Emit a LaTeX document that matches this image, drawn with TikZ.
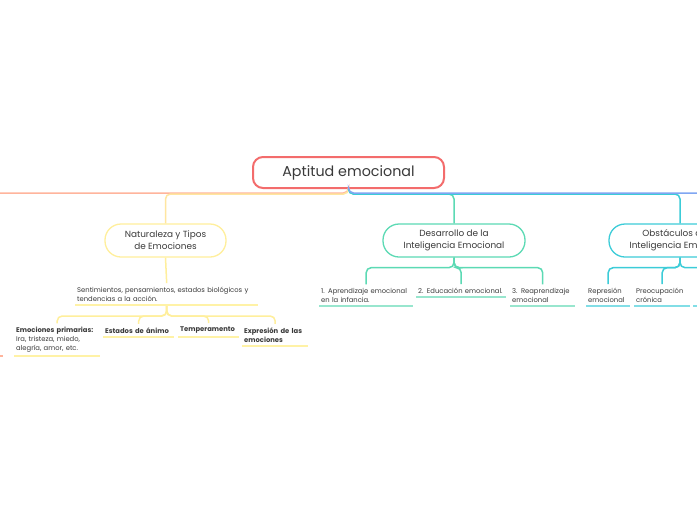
\documentclass[tikz,border=0pt]{standalone}
\usepackage{fontspec}
\setmainfont{Poppins}
\definecolor{rootred}{HTML}{F36C6C}
\definecolor{salmonline}{HTML}{FFB49C}
\definecolor{natline}{HTML}{FFE6A0}
\definecolor{natbox}{HTML}{FFEF9C}
\definecolor{natleaf}{HTML}{FFF2A6}
\definecolor{blueline}{HTML}{80A6F2}
\definecolor{desline}{HTML}{5CDAB4}
\definecolor{desleaf}{HTML}{98E6CE}
\definecolor{obsline}{HTML}{3CCCD8}
\definecolor{obsleaf}{HTML}{82DEE6}
\definecolor{textgray}{HTML}{3A3A3A}
\begin{document}
\begin{tikzpicture}[x=1pt,y=-1pt,
    conn/.style={line width=1.5pt, rounded corners=5pt},
    uline/.style={line width=1.6pt},
    topic/.style={draw, fill=white, line width=1.3pt, rounded corners=16pt,
      minimum width=142pt, minimum height=33pt, align=center,
      font=\fontsize{8.9}{12}\selectfont, text=textgray},
    leaf/.style={anchor=south west, align=left, inner xsep=2pt, inner ysep=3.5pt,
      font=\fontsize{6.8}{9}\selectfont, text=textgray}]
  \clip (0,0) rectangle (697,520);
  \fill[white] (0,0) rectangle (697,520);

  % main topic
  \node[draw=rootred, fill=white, line width=2pt, rounded corners=10pt,
    minimum width=191pt, minimum height=31pt, text=textgray,
    font=\fontsize{14.3}{16}\selectfont] (root) at (348.5,172.5) {Aptitud emocional};

  % branch topics
  \node[topic, draw=natbox, minimum width=121pt] (nat) at (165.5,240.5) {Naturaleza y Tipos\\de Emociones};
  \node[topic, draw=desline] (des) at (454,240.5) {Desarrollo de la\\Inteligencia Emocional};
  \node[topic, draw=obsline] (obs) at (680,240.5) {Obstáculos de la\\Inteligencia Emocional};
  \coordinate (offL) at (-20,193);
  \coordinate (offR) at (720,193);

  % leaves
  \node[leaf, text width=179pt] (sent) at (75,305) {Sentimientos, pensamientos, estados biológicos y\\tendencias a la acción.};
  \node[leaf, text width=82pt] (prim) at (14,356) {\textbf{Emociones primarias:}\\Ira, tristeza, miedo,\\alegría, amor, etc.};
  \node[leaf, text width=67pt] (animo) at (103,337) {\textbf{Estados de ánimo}};
  \node[leaf, text width=57pt] (temp) at (178,337) {\textbf{Temperamento}};
  \node[leaf, text width=62pt] (expr) at (242,346) {\textbf{Expresión de las\\emociones}};
  \node[leaf, text width=90pt] (apr) at (319,306) {1. Aprendizaje emocional\\en la infancia.};
  \node[leaf, text width=86pt] (edu) at (416,297) {2. Educación emocional.};
  \node[leaf, text width=61pt] (reap) at (510,306) {3. Reaprendizaje\\emocional};
  \node[leaf, text width=40pt] (repr) at (586,306) {Represión\\emocional};
  \node[leaf, text width=52pt] (preo) at (634,306) {Preocupación\\crónica};
  \coordinate (obsc) at (727,283);

  % connectors from the main topic
  \draw[conn, salmonline] (root.south) |- (offL);
  \draw[conn, natline] (root.south) -- ++(0,5) -| (nat.north);
  \draw[conn, desline] (root.south) -- ++(0,5) -| (des.north);
  \draw[conn, obsline] (root.south) -- ++(0,5) -| (obs.north);
  \draw[conn, blueline] (root.south) |- (offR);
  \draw[uline, salmonline] (-20,356) -- (3,356);

  % naturaleza
  \draw[conn, natbox] (nat.south) -- (sent.north);
  \foreach \n in {prim,animo,temp,expr}
    \draw[conn, natbox] (sent.south) -- ++(0,11) -| (\n.north);
  \foreach \n in {sent,prim,animo,temp,expr}
    \draw[uline, natleaf] (\n.south west) -- (\n.south east);

  % desarrollo
  \foreach \n in {apr,edu,reap}
    \draw[conn, desline] (des.south) -- ++(0,10) -| (\n.north);
  \foreach \n in {apr,edu,reap}
    \draw[uline, desleaf] (\n.south west) -- (\n.south east);

  % obstaculos
  \foreach \n in {repr,preo,obsc}
    \draw[conn, obsline] (obs.south) -- ++(0,10) -| (\n);
  \foreach \n in {repr,preo}
    \draw[uline, obsleaf] (\n.south west) -- (\n.south east);
  \draw[uline, obsleaf] (693,306) -- (760,306);
\end{tikzpicture}
\end{document}
